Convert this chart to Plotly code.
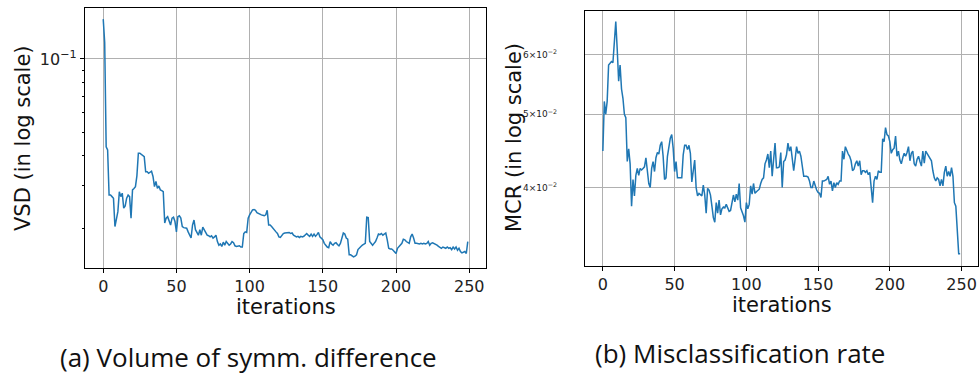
import plotly.graph_objects as go

iterations = list(range(250))

vsd = [
    0.146, 0.117, 0.0435, 0.0422, 0.0275, 0.0275, 0.0271, 0.0267, 0.0204, 0.0224,
    0.0235, 0.0284, 0.0271, 0.0280, 0.0243, 0.0248, 0.0267, 0.0275, 0.0271, 0.0221,
    0.0289, 0.0293, 0.0298, 0.0330, 0.0409, 0.0409, 0.0405, 0.0402, 0.0396, 0.0343,
    0.0343, 0.0338, 0.0343, 0.0345, 0.0328, 0.0298, 0.0313, 0.0293, 0.0300, 0.0289,
    0.0287, 0.0284, 0.0211, 0.0221, 0.0224, 0.0214, 0.0207, 0.0221, 0.0223, 0.0214,
    0.0194, 0.0224, 0.0226, 0.0221, 0.0204, 0.0202, 0.0201, 0.0201, 0.0194, 0.0188,
    0.0183, 0.0207, 0.0217, 0.0198, 0.0194, 0.0188, 0.0198, 0.0188, 0.0203, 0.0198,
    0.0194, 0.0188, 0.0187, 0.0185, 0.0187, 0.0183, 0.0185, 0.0188, 0.0177, 0.0171,
    0.0173, 0.0169, 0.0176, 0.0171, 0.0177, 0.0174, 0.0171, 0.0173, 0.0177, 0.0175,
    0.0170, 0.0169, 0.0169, 0.0170, 0.0168, 0.0168, 0.0191, 0.0194, 0.0193, 0.0221,
    0.0228, 0.0235, 0.0239, 0.0240, 0.0238, 0.0233, 0.0231, 0.0229, 0.0228, 0.0227,
    0.0226, 0.0228, 0.0238, 0.0207, 0.0207, 0.0204, 0.0200, 0.0196, 0.0194, 0.0191,
    0.0185, 0.0184, 0.0188, 0.0191, 0.0192, 0.0192, 0.0192, 0.0193, 0.0191, 0.0192,
    0.0188, 0.0186, 0.0185, 0.0186, 0.0184, 0.0186, 0.0185, 0.0186, 0.0188, 0.0191,
    0.0188, 0.0186, 0.0190, 0.0186, 0.0190, 0.0186, 0.0189, 0.0193, 0.0185, 0.0182,
    0.0180, 0.0174, 0.0170, 0.0168, 0.0167, 0.0177, 0.0173, 0.0171, 0.0174, 0.0175,
    0.0172, 0.0170, 0.0174, 0.0185, 0.0192, 0.0190, 0.0183, 0.0181, 0.0156, 0.0156,
    0.0155, 0.0153, 0.0154, 0.0156, 0.0164, 0.0167, 0.0169, 0.0171, 0.0172, 0.0174,
    0.0223, 0.0222, 0.0177, 0.0174, 0.0171, 0.0174, 0.0177, 0.0183, 0.0190, 0.0189,
    0.0191, 0.0188, 0.0190, 0.0192, 0.0180, 0.0166, 0.0165, 0.0165, 0.0163, 0.0160,
    0.0158, 0.0166, 0.0169, 0.0171, 0.0174, 0.0181, 0.0180, 0.0177, 0.0175, 0.0174,
    0.0185, 0.0190, 0.0183, 0.0174, 0.0174, 0.0173, 0.0173, 0.0174, 0.0173, 0.0174,
    0.0173, 0.0174, 0.0177, 0.0171, 0.0174, 0.0175, 0.0174, 0.0173, 0.0171, 0.0169,
    0.0167, 0.0166, 0.0168, 0.0167, 0.0166, 0.0168, 0.0166, 0.0167, 0.0164, 0.0168,
    0.0165, 0.0168, 0.0163, 0.0166, 0.0161, 0.0159, 0.0160, 0.0161, 0.0158, 0.0177,
]

mcr = [
    0.0447, 0.0520, 0.0500, 0.0520, 0.0581, 0.0584, 0.0587, 0.0585, 0.0620, 0.0663,
    0.0610, 0.0553, 0.0581, 0.0540, 0.0525, 0.0500, 0.0495, 0.0433, 0.0450, 0.0430,
    0.0378, 0.0410, 0.0390, 0.0415, 0.0424, 0.0415, 0.0424, 0.0422, 0.0424, 0.0426,
    0.0438, 0.0424, 0.0405, 0.0400, 0.0424, 0.0433, 0.0420, 0.0438, 0.0445, 0.0443,
    0.0455, 0.0460, 0.0440, 0.0410, 0.0412, 0.0440, 0.0451, 0.0465, 0.0470, 0.0451,
    0.0420, 0.0433, 0.0412, 0.0412, 0.0412, 0.0412, 0.0442, 0.0455, 0.0455, 0.0449,
    0.0455, 0.0444, 0.0407, 0.0420, 0.0435, 0.0400, 0.0390, 0.0393, 0.0392, 0.0390,
    0.0403, 0.0391, 0.0370, 0.0399, 0.0397, 0.0391, 0.0378, 0.0365, 0.0360, 0.0382,
    0.0370, 0.0385, 0.0368, 0.0375, 0.0377, 0.0376, 0.0380, 0.0375, 0.0372, 0.0373,
    0.0385, 0.0391, 0.0383, 0.0392, 0.0385, 0.0405, 0.0376, 0.0372, 0.0367, 0.0360,
    0.0382, 0.0375, 0.0380, 0.0402, 0.0392, 0.0405, 0.0393, 0.0395, 0.0397, 0.0398,
    0.0405, 0.0410, 0.0412, 0.0430, 0.0435, 0.0443, 0.0425, 0.0447, 0.0414, 0.0437,
    0.0458, 0.0425, 0.0425, 0.0426, 0.0445, 0.0400, 0.0433, 0.0435, 0.0442, 0.0458,
    0.0447, 0.0453, 0.0436, 0.0421, 0.0436, 0.0453, 0.0444, 0.0447, 0.0440, 0.0427,
    0.0414, 0.0414, 0.0414, 0.0413, 0.0408, 0.0400, 0.0400, 0.0408, 0.0401, 0.0397,
    0.0394, 0.0393, 0.0388, 0.0408, 0.0408, 0.0409, 0.0410, 0.0414, 0.0404, 0.0408,
    0.0396, 0.0406, 0.0400, 0.0406, 0.0404, 0.0408, 0.0408, 0.0447, 0.0436, 0.0453,
    0.0447, 0.0443, 0.0440, 0.0434, 0.0421, 0.0423, 0.0430, 0.0434, 0.0427, 0.0434,
    0.0416, 0.0421, 0.0421, 0.0419, 0.0421, 0.0416, 0.0419, 0.0396, 0.0382, 0.0408,
    0.0414, 0.0410, 0.0421, 0.0419, 0.0419, 0.0464, 0.0460, 0.0480, 0.0470, 0.0468,
    0.0460, 0.0444, 0.0449, 0.0451, 0.0468, 0.0440, 0.0447, 0.0435, 0.0430, 0.0438,
    0.0444, 0.0440, 0.0445, 0.0453, 0.0434, 0.0444, 0.0447, 0.0430, 0.0427, 0.0436,
    0.0440, 0.0433, 0.0427, 0.0447, 0.0431, 0.0447, 0.0444, 0.0440, 0.0438, 0.0434,
    0.0421, 0.0412, 0.0408, 0.0412, 0.0410, 0.0402, 0.0410, 0.0402, 0.0419, 0.0427,
    0.0414, 0.0420, 0.0414, 0.0425, 0.0414, 0.0382, 0.0378, 0.0355, 0.0327, 0.0327,
]

x_ticks = [0, 50, 100, 150, 200, 250]
vsd_major = [0.1]
vsd_major_text = ["10<sup>−1</sup>"]
vsd_minor = [0.02, 0.03, 0.04, 0.05, 0.06, 0.07, 0.08, 0.09]
mcr_ticks = [0.04, 0.05, 0.06]
mcr_tick_text = ["4×10<sup>−2</sup>", "5×10<sup>−2</sup>", "6×10<sup>−2</sup>"]

W, H = 979, 374
LINE = "#1f77b4"
FONT = "DejaVu Sans"

fig = go.Figure()
fig.add_trace(go.Scatter(x=iterations, y=vsd, mode="lines",
                         line=dict(color=LINE, width=1.5), xaxis="x", yaxis="y"))
fig.add_trace(go.Scatter(x=iterations, y=mcr, mode="lines",
                         line=dict(color=LINE, width=1.5), xaxis="x2", yaxis="y2"))

def px_x(p):
    return p / W

def px_y(p):
    return 1 - p / H

common_x = dict(range=[-12.45, 261.45], tickvals=x_ticks, ticks="outside", ticklen=4,
                tickcolor="black", showline=True, linecolor="black", linewidth=1.2,
                mirror=True, showgrid=True, gridcolor="#b0b0b0", gridwidth=1,
                zeroline=False, tickfont=dict(family=FONT, size=16, color="#222"))

fig.update_layout(
    width=W, height=H, margin=dict(l=0, r=0, t=0, b=0),
    paper_bgcolor="white", plot_bgcolor="white", showlegend=False,
    xaxis=dict(domain=[px_x(85), px_x(486)], anchor="y", **common_x),
    yaxis=dict(domain=[px_y(268), px_y(8)], anchor="x", type="log",
               range=[-1.861, -0.790], tickvals=vsd_major, ticktext=vsd_major_text,
               ticks="outside", ticklen=4, tickcolor="black",
               showline=True, linecolor="black", linewidth=1.2, mirror=True,
               showgrid=True, gridcolor="#b0b0b0", gridwidth=1, zeroline=False,
               tickfont=dict(family=FONT, size=16, color="#222"),
               minor=dict(tickmode="array", tickvals=vsd_minor, ticks="outside",
                          ticklen=2, tickcolor="black", showgrid=False)),
    xaxis2=dict(domain=[px_x(585), px_x(978)], anchor="y2", **common_x),
    yaxis2=dict(domain=[px_y(266), px_y(11)], anchor="x2", type="log",
                range=[-1.5017, -1.1644], tickvals=mcr_ticks, ticktext=mcr_tick_text,
                ticks="", ticklabelstandoff=25,
                showline=True, linecolor="black", linewidth=1.2, mirror=True,
                showgrid=True, gridcolor="#b0b0b0", gridwidth=1, zeroline=False,
                tickfont=dict(family=FONT, size=9, color="#222")),
)

annotations = [
    dict(text="VSD (in log scale)", x=px_x(23), y=px_y(138), textangle=-90,
         font=dict(family=FONT, size=21, color="#111")),
    dict(text="iterations", x=px_x(285.5), y=px_y(307),
         font=dict(family=FONT, size=21, color="#111")),
    dict(text="MCR (in log scale)", x=px_x(514), y=px_y(138), textangle=-90,
         font=dict(family=FONT, size=21, color="#111")),
    dict(text="iterations", x=px_x(781.5), y=px_y(305),
         font=dict(family=FONT, size=21, color="#111")),
    dict(text="(a) Volume of symm. difference", x=px_x(248), y=px_y(357),
         font=dict(family="Open Sans", size=26, color="#111")),
    dict(text="(b) Misclassification rate", x=px_x(740), y=px_y(353),
         font=dict(family="Open Sans", size=26, color="#111")),
]
for a in annotations:
    a.update(xref="paper", yref="paper", showarrow=False, xanchor="center",
             yanchor="middle", borderpad=0)
fig.update_layout(annotations=annotations)

fig.write_html("out.html", config={"displayModeBar": False},
               post_script="document.body.style.margin='0';document.body.style.overflow='hidden';")
